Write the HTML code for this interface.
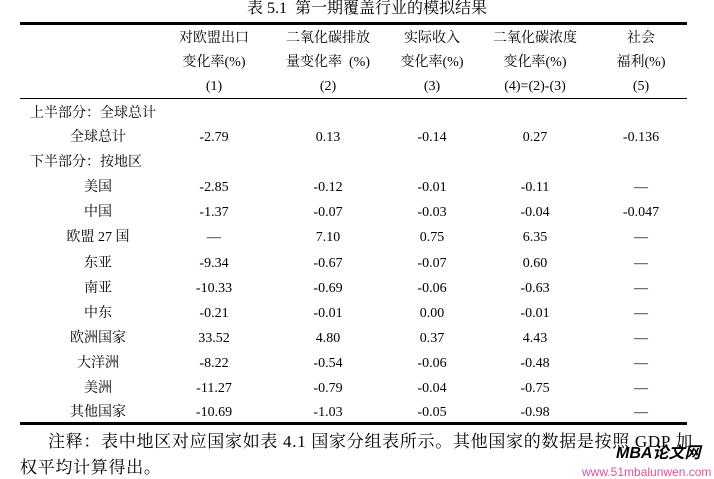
<!DOCTYPE html>
<html><head><meta charset="utf-8"><style>
body{margin:0;width:714px;height:479px;background:#fff;position:relative;overflow:hidden;font-family:"Liberation Serif","Noto Serif CJK SC","Noto Sans CJK SC",serif;color:#000;font-size:14px}
.t{position:absolute;white-space:nowrap;line-height:16px}
.c{transform:translateX(-50%)}
.l{position:absolute;background:#000;left:20px;width:667px}
</style></head><body>
<div class="t c" style="left:367px;top:0px;font-size:16px;line-height:18px">表 5.1&nbsp; 第一期覆盖行业的模拟结果</div>
<div class="l" style="top:22px;height:3px"></div>
<div class="l" style="top:98px;height:1px"></div>
<div class="l" style="top:422px;height:3px"></div>

<div class="t c" style="left:214px;top:31px">对欧盟出口</div>
<div class="t c" style="left:214px;top:55px">变化率(%)</div>
<div class="t c" style="left:214px;top:79px">(1)</div>
<div class="t c" style="left:328px;top:31px">二氧化碳排放</div>
<div class="t c" style="left:328px;top:55px">量变化率 &nbsp;(%)</div>
<div class="t c" style="left:328px;top:79px">(2)</div>
<div class="t c" style="left:432px;top:31px">实际收入</div>
<div class="t c" style="left:432px;top:55px">变化率(%)</div>
<div class="t c" style="left:432px;top:79px">(3)</div>
<div class="t c" style="left:535px;top:31px">二氧化碳浓度</div>
<div class="t c" style="left:535px;top:55px">变化率(%)</div>
<div class="t c" style="left:535px;top:79px">(4)=(2)-(3)</div>
<div class="t c" style="left:641px;top:31px">社会</div>
<div class="t c" style="left:641px;top:55px">福利(%)</div>
<div class="t c" style="left:641px;top:79px">(5)</div>

<div class="t" style="left:30px;top:106px">上半部分：全球总计</div>
<div class="t" style="left:30px;top:155px">下半部分：按地区</div>

<div id="rows"></div>
<script>
var rows=[
[130,"全球总计","-2.79","0.13","-0.14","0.27","-0.136"],
[180,"美国","-2.85","-0.12","-0.01","-0.11","—"],
[205,"中国","-1.37","-0.07","-0.03","-0.04","-0.047"],
[230,"欧盟 27 国","—","7.10","0.75","6.35","—"],
[256,"东亚","-9.34","-0.67","-0.07","0.60","—"],
[281,"南亚","-10.33","-0.69","-0.06","-0.63","—"],
[306,"中东","-0.21","-0.01","0.00","-0.01","—"],
[331,"欧洲国家","33.52","4.80","0.37","4.43","—"],
[356,"大洋洲","-8.22","-0.54","-0.06","-0.48","—"],
[381,"美洲","-11.27","-0.79","-0.04","-0.75","—"],
[405,"其他国家","-10.69","-1.03","-0.05","-0.98","—"]];
var xs=[98,214,328,432,535,641],h="";
rows.forEach(function(r){for(var i=0;i<6;i++)h+='<div class="t c" style="left:'+xs[i]+'px;top:'+r[0]+'px">'+r[i+1]+'</div>';});
document.getElementById('rows').innerHTML=h;
</script>

<div class="t" style="left:48px;top:432px;font-size:17px;line-height:20px;letter-spacing:0.7px">注释：表中地区对应国家如表 4.1 国家分组表所示。其他国家的数据是按照 GDP 加</div>
<div class="t" style="left:20px;top:458px;font-size:17px;line-height:20px;letter-spacing:0.7px">权平均计算得出。</div>
<div class="t" style="left:616px;top:446px;font-family:'Liberation Sans','Noto Sans CJK SC',sans-serif;font-weight:bold;font-style:italic;font-size:16px">MBA论文网</div>
<div class="t" style="left:582px;top:466px;font-family:'Liberation Sans',sans-serif;font-size:12px;line-height:12px;color:#e0509a">www.51mbalunwen.com</div>
</body></html>
